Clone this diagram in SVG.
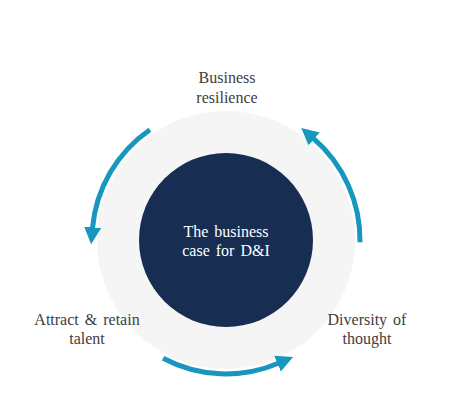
<svg xmlns="http://www.w3.org/2000/svg" width="453" height="416" viewBox="0 0 453 416">
  <style>
    .lbl { font-family: "Liberation Serif", "Times New Roman", serif; font-size: 16px; fill: #404040; text-anchor: middle; word-spacing: 2px; }
    .ctr { font-family: "Liberation Serif", "Times New Roman", serif; font-size: 16px; fill: #ffffff; text-anchor: middle; word-spacing: 2px; }
    .arc { fill: none; stroke: #1797BD; stroke-width: 5; }
  </style>
  <defs>
    <marker id="head" viewBox="0 0 17 17" refX="1" refY="8.5" markerWidth="17" markerHeight="17" markerUnits="userSpaceOnUse" orient="auto">
      <path d="M0,0 L17,8.5 L0,17 z" fill="#1797BD"/>
    </marker>
  </defs>
  <rect width="453" height="416" fill="#ffffff"/>
  <g id="ring">
    <circle cx="226" cy="240" r="129" fill="#F5F5F5"/>
  </g>
  <g id="center">
    <circle cx="226" cy="240" r="87" fill="#172E52"/>
    <text class="ctr" x="226" y="237">The business</text>
    <text class="ctr" x="226" y="256">case for D&amp;I</text>
  </g>
  <g id="resilience">
    <text class="lbl" x="227" y="83">Business</text>
    <text class="lbl" x="227" y="103">resilience</text>
  </g>
  <g id="talent">
    <text class="lbl" x="87" y="325">Attract &amp; retain</text>
    <text class="lbl" x="87" y="344">talent</text>
  </g>
  <g id="diversity">
    <text class="lbl" x="367" y="325">Diversity of</text>
    <text class="lbl" x="367" y="344">thought</text>
  </g>
  <g id="connectors">
    <path class="arc" d="M149.9,129.7 A134,134 0 0 0 92.5,228.3" marker-end="url(#head)"/>
    <path class="arc" d="M360.0,242.3 A134,134 0 0 0 313.4,138.4" marker-end="url(#head)"/>
    <path class="arc" d="M163.1,358.3 A134,134 0 0 0 278.4,363.3" marker-end="url(#head)"/>
  </g>
</svg>
